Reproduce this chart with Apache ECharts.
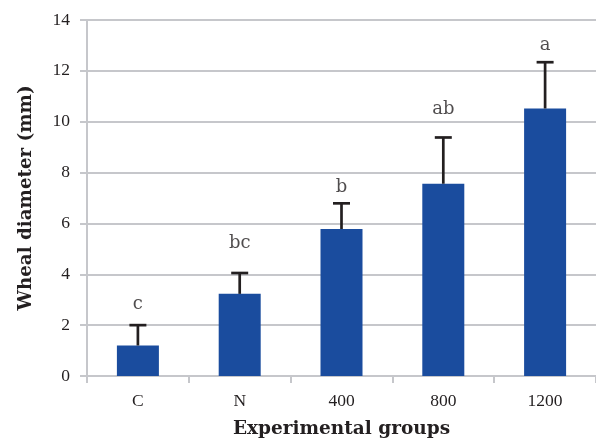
<!DOCTYPE html>
<html><head><meta charset="utf-8">
<script src="https://cdn.jsdelivr.net/npm/echarts@6/dist/echarts.min.js"></script>
<style>html,body{margin:0;padding:0;background:#fff}#c{width:596px;height:438px}</style>
</head><body><div id="c"></div>
<script>
const categories = ['C', 'N', '400', '800', '1200'];
const meanValues = [1.2, 3.23, 5.78, 7.56, 10.52];
const errorTops = [2.0, 4.05, 6.79, 9.38, 12.34];
const letters = ['c', 'bc', 'b', 'ab', 'a'];
const letterY = [2.82, 5.22, 7.41, 10.48, 13.01];
const yTicks = [0, 2, 4, 6, 8, 10, 12, 14];

const font = 'Liberation Serif';
const font2 = 'DejaVu Serif';
const chart = echarts.init(document.getElementById('c'));
chart.setOption({
  animation: false,
  grid: {left: 87, right: 0, top: 20, bottom: 62, outerBoundsMode: 'none', containLabel: false},
  xAxis: {
    type: 'category', data: categories,
    name: 'Experimental groups', nameLocation: 'middle', nameGap: 44,
    nameTextStyle: {fontFamily: font2, fontWeight: 'bold', fontSize: 18.5, color: '#231f20'},
    axisLine: {lineStyle: {color: '#c6c7cb', width: 2}},
    axisTick: {show: true, length: 7, lineStyle: {color: '#c6c7cb', width: 2}},
    axisLabel: {fontFamily: font, fontSize: 17.5, color: '#231f20', margin: 16}
  },
  yAxis: {
    type: 'value', min: yTicks[0], max: yTicks[yTicks.length - 1], interval: 2,
    name: 'Wheal diameter (mm)', nameLocation: 'middle', nameGap: 52,
    nameTextStyle: {fontFamily: font2, fontWeight: 'bold', fontSize: 18.3, color: '#231f20'},
    axisLine: {show: true, lineStyle: {color: '#c6c7cb', width: 2}},
    axisTick: {show: true, length: 7, lineStyle: {color: '#c6c7cb', width: 2}},
    splitLine: {lineStyle: {color: '#c6c7cb', width: 2}},
    axisLabel: {fontFamily: font, fontSize: 17.5, color: '#231f20', margin: 17}
  },
  series: [
    {type: 'bar', data: meanValues, barWidth: 42, itemStyle: {color: '#1a4c9e'}, z: 2},
    {
      type: 'custom', z: 3,
      data: errorTops.map((t, i) => [i, meanValues[i], t]),
      renderItem: function (params, api) {
        const p0 = api.coord([api.value(0), api.value(1)]);
        const p1 = api.coord([api.value(0), api.value(2)]);
        const hw = 8.5;
        return {type: 'group', children: [
          {type: 'line', shape: {x1: p0[0], y1: p0[1], x2: p1[0], y2: p1[1]}, style: {stroke: '#231f20', lineWidth: 2.7}},
          {type: 'line', shape: {x1: p1[0] - hw, y1: p1[1], x2: p1[0] + hw, y2: p1[1]}, style: {stroke: '#231f20', lineWidth: 2.7}}
        ]};
      }
    },
    {
      type: 'scatter', symbolSize: 0, z: 4,
      data: letterY.map((y, i) => ({value: [i, y], label: {formatter: letters[i]}})),
      label: {show: true, position: 'inside', fontFamily: font2, fontSize: 18, color: '#231f20'}
    }
  ]
});
</script></body></html>
